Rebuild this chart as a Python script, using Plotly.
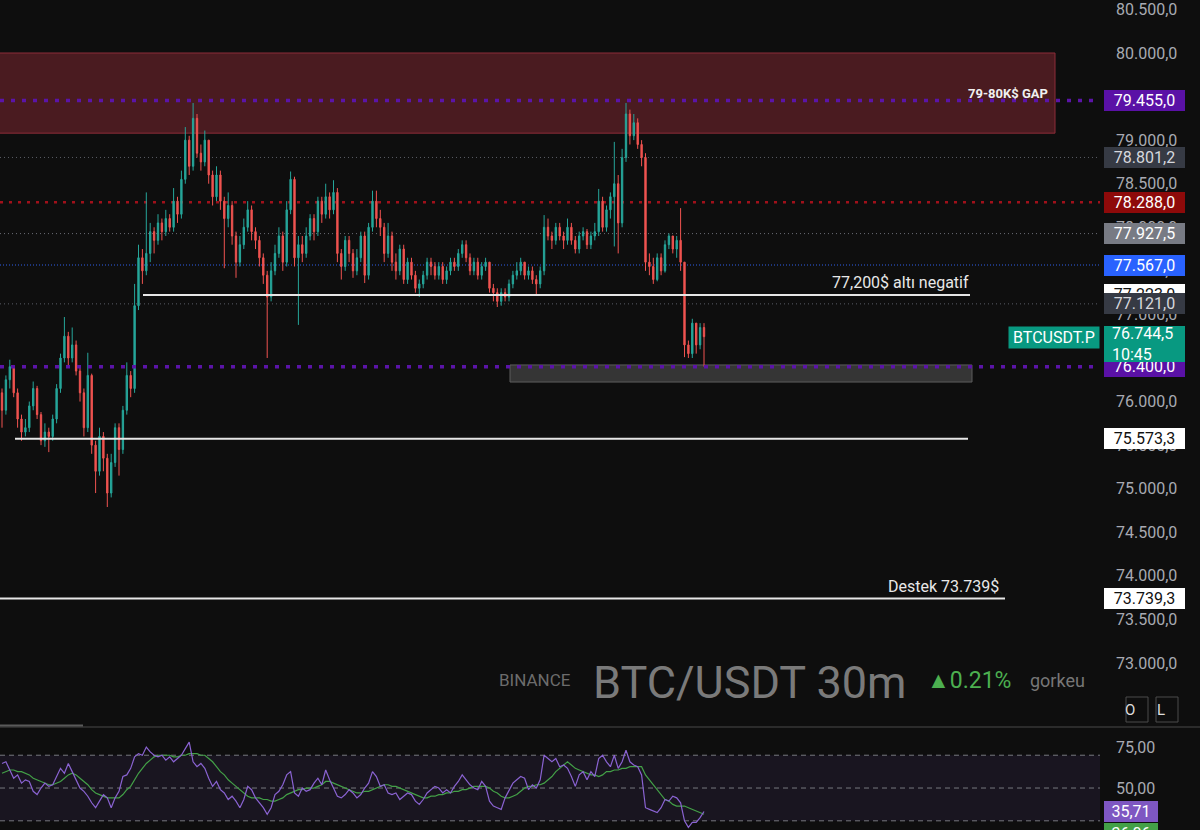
import plotly.graph_objects as go

# ---------------- data ----------------
first_open = 76100
close = [75900, 76250, 76400, 76100, 75800, 75650, 75700, 75950, 76150, 75850,
         75550, 75650, 75600, 75800, 76150, 76500, 76750, 76500, 76650, 76350,
         76100, 75700, 76300, 75500, 75200, 75600, 75350, 74950, 75300, 75700,
         75450, 75900, 76300, 76150, 77100, 77650, 77500, 77700, 77950, 77850,
         78050, 77950, 78100, 78000, 78300, 78150, 78550, 79000, 78700, 79250,
         78850, 78750, 79000, 78600, 78350, 78600, 78300, 78100, 78250, 77900,
         77600, 77800, 78000, 78200, 77950, 77850, 77650, 77450, 77200, 77500,
         77700, 77900, 77600, 78200, 78550, 77650, 77800, 77700, 77900, 78100,
         77950, 78300, 78150, 78350, 78200, 78400, 77700, 77550, 77850, 77700,
         77500, 77650, 77900, 77450, 78000, 78300, 78100, 78000, 77700, 77900,
         77600, 77500, 77750, 77400, 77600, 77450, 77300, 77350, 77450, 77600,
         77550, 77450, 77550, 77400, 77500, 77600, 77550, 77700, 77800, 77650,
         77500, 77600, 77450, 77550, 77600, 77300, 77250, 77150, 77250, 77200,
         77350, 77450, 77500, 77600, 77450, 77500, 77400, 77350, 77500, 78000,
         77900, 77850, 78000, 77900, 77850, 78000, 77850, 77750, 77900, 77950,
         77800, 77900, 77950, 78300, 78000, 78200, 78350, 78500, 78050, 78800,
         79300, 79050, 79200, 78950, 78800, 77600, 77550, 77400, 77650, 77500,
         77800, 77900, 77750, 77850, 77600, 76650, 76550, 76900, 76650, 76850,
         76744.5]
high = [76150, 76300, 76480, 76420, 76150, 75850, 75800, 76000, 76230, 76180,
        75880, 75750, 75700, 75850, 76200, 76550, 76970, 76800, 76850, 76700,
        76400, 76150, 76560, 76320, 75550, 75700, 75650, 75400, 75400, 75750,
        75750, 75950, 76450, 76350, 77350, 77800, 77750, 78400, 78050, 78000,
        78150, 78100, 78200, 78150, 78450, 78350, 78650, 79150, 79050, 79426,
        79300, 78950, 79110, 79000, 78650, 78700, 78650, 78350, 78400, 78300,
        77950, 77900, 78100, 78300, 78250, 78000, 77900, 77700, 77500, 77600,
        77800, 78000, 77950, 78300, 78640, 78580, 77900, 77900, 78000, 78150,
        78150, 78350, 78350, 78500, 78400, 78540, 78450, 77750, 77900, 77900,
        77750, 77750, 77950, 77950, 78050, 78420, 78420, 78200, 78050, 78050,
        77950, 77700, 77800, 77800, 77650, 77650, 77500, 77400, 77500, 77650,
        77650, 77600, 77600, 77600, 77550, 77650, 77650, 77750, 77850, 77850,
        77700, 77650, 77650, 77600, 77650, 77600, 77350, 77300, 77300, 77300,
        77400, 77500, 77600, 77650, 77600, 77550, 77550, 77450, 77550, 78140,
        78100, 77950, 78050, 78050, 77950, 78100, 78050, 77900, 77950, 78000,
        77980, 77950, 78050, 78440, 78350, 78250, 78400, 78980, 78600, 78900,
        79426, 79350, 79300, 79250, 79000, 78850, 77700, 77650, 77700, 77700,
        77850, 77930, 77900, 77900, 78220, 77600, 76700, 76950, 76900, 76900,
        76900]
low = [75700, 75850, 76150, 76050, 75700, 75550, 75600, 75650, 75900, 75800,
       75500, 75480, 75420, 75550, 75750, 76100, 76450, 76400, 76450, 76300,
       76000, 75600, 75650, 75400, 74950, 75150, 75200, 74790, 74900, 75250,
       75150, 75400, 75850, 76050, 76100, 77050, 77350, 77450, 77600, 77700,
       77800, 77850, 77900, 77950, 77950, 78050, 78100, 78500, 78600, 78650,
       78800, 78650, 78700, 78500, 78250, 78300, 78200, 77530, 78000, 77800,
       77420, 77550, 77750, 77950, 77850, 77750, 77550, 77350, 76500, 77150,
       77450, 77650, 77500, 77550, 78150, 77550, 76880, 77600, 77650, 77850,
       77850, 77900, 78050, 78100, 78100, 78150, 77600, 77400, 77500, 77600,
       77420, 77450, 77600, 77360, 77400, 77950, 78000, 77900, 77600, 77650,
       77500, 77400, 77450, 77350, 77350, 77400, 77250, 77200, 77300, 77400,
       77450, 77400, 77400, 77350, 77350, 77450, 77500, 77500, 77650, 77600,
       77450, 77450, 77400, 77400, 77500, 77250, 77150, 77085, 77100, 77150,
       77150, 77300, 77400, 77450, 77400, 77400, 77350, 77220, 77300, 77450,
       77850, 77750, 77800, 77850, 77750, 77800, 77800, 77700, 77700, 77850,
       77750, 77750, 77850, 77900, 77950, 77950, 78100, 77780, 77700, 78000,
       78750, 78950, 79000, 78900, 78700, 77500, 77450, 77350, 77380, 77450,
       77480, 77750, 77700, 77650, 77500, 76510, 76500, 76500, 76550, 76600,
       76400]

rsi = [65, 66, 61, 56, 58, 53, 55, 54, 48, 46, 50, 53, 51, 52, 57, 62, 59, 65, 60, 55,
       50, 48, 45, 41, 38, 42, 46, 44, 38, 44, 48, 57, 58, 62, 69, 71, 70, 75, 72, 70,
       69, 70, 67, 69, 66, 68, 70, 74, 78, 66, 63, 65, 62, 56, 51, 54, 49, 47, 43, 45,
       42, 38, 43, 51, 49, 44, 41, 38, 34, 38, 46, 48, 52, 58, 60, 47, 45, 50, 48, 49,
       53, 56, 52, 61, 55, 50, 45, 44, 46, 49, 47, 44, 46, 50, 53, 60, 57, 51, 52, 47,
       46, 47, 43, 45, 47, 46, 42, 40, 43, 47, 49, 51, 50, 47, 49, 47, 51, 54, 58, 55,
       52, 50, 49, 54, 51, 42, 39, 38, 37, 44, 49, 53, 55, 57, 56, 49, 52, 50, 55, 70,
       68, 66, 68, 63, 64, 62, 57, 51, 58, 60, 55, 60, 57, 68, 70, 66, 63, 70, 62, 66,
       73, 66, 64, 63, 58, 38, 37, 36, 35, 38, 43, 42, 45, 44, 41, 30, 26, 29, 29, 32,
       35.71]
rsi_ma = [59, 60, 61, 61, 60, 60, 59, 58, 56, 55, 54, 53, 52, 52, 53, 54, 56, 58, 59, 58,
          56, 54, 52, 49, 47, 46, 45, 44, 44, 44, 44, 46, 49, 51, 55, 59, 62, 65, 67, 69,
          70, 70, 70, 70, 69, 69, 70, 70, 71, 71, 71, 70, 70, 68, 66, 63, 60, 58, 55, 53,
          51, 49, 47, 45, 44, 44, 44, 43, 43, 42, 42, 43, 44, 46, 47, 48, 49, 49, 50, 50,
          50, 51, 52, 54, 54, 53, 52, 51, 50, 49, 48, 47, 47, 48, 48, 49, 50, 51, 52, 52,
          51, 51, 50, 49, 48, 47, 46, 45, 44, 44, 45, 45, 46, 46, 47, 47, 48, 48, 49, 49,
          50, 51, 51, 51, 51, 50, 48, 47, 45, 44, 44, 45, 46, 48, 50, 51, 51, 52, 52, 53,
          55, 57, 60, 62, 64, 66, 64, 62, 61, 60, 59, 58, 58, 57, 58, 60, 60, 61, 61, 62,
          62, 63, 63, 63, 63, 58, 55, 52, 49, 46, 43, 42, 40, 39, 39, 39, 38, 37, 36, 35,
          34]

price_ticks = [73000, 73500, 74000, 74500, 75000, 75500, 76000, 76500,
               77000, 77500, 78000, 78500, 79000, 79500, 80000, 80500]
rsi_ticks = [50, 75]
rsi_bands = [30, 50, 70]

gap_zone = [79080, 80000]
gap_high = 79455.0
hl_gray_1 = 78801.2
hl_red = 78288.0
hl_gray_2 = 77927.5
hl_blue = 77567.0
line_772 = 77223.0
hl_gray_3 = 77121.0
purple_low = 76400.0
box_zone = [76224, 76420]
support_1 = 75573.3
support_2 = 73739.3
last_time = "10:45"
rsi_ma_label = "36,06"

opens = [first_open] + close[:-1]
idx = list(range(len(close)))

# ---------------- geometry ----------------
W, H = 1200, 830
PLOT_R = 1100
DX, X0 = 3.9, 2.0
xr = [(0 - X0) / DX, (PLOT_R - X0) / DX]
def xi(px):
    return (px - X0) / DX
def py(p):
    return 1 - p / H

BG = "#0e0e0e"
FONT = "Roboto"
GREEN, RED = "#26a69a", "#ef5350"
NB = "\u00a0"

fig = go.Figure()
fig.add_trace(go.Candlestick(
    x=idx, open=opens, high=high, low=low, close=close,
    increasing=dict(line=dict(color=GREEN, width=1), fillcolor=GREEN),
    decreasing=dict(line=dict(color=RED, width=1), fillcolor=RED),
    whiskerwidth=0, xaxis="x", yaxis="y", showlegend=False, hoverinfo="skip"))

fig.add_trace(go.Scatter(x=idx, y=rsi_ma, mode="lines", line=dict(color="#43a047", width=1.2),
                         xaxis="x2", yaxis="y2", showlegend=False, hoverinfo="skip"))
fig.add_trace(go.Scatter(x=idx, y=rsi, mode="lines", line=dict(color="#8a63d2", width=1.2),
                         xaxis="x2", yaxis="y2", showlegend=False, hoverinfo="skip"))

shapes = []
xp_r = PLOT_R / W
shapes.append(dict(type="rect", xref="x", yref="y", x0=xi(-5), x1=xi(1055), y0=gap_zone[0], y1=gap_zone[1],
                   fillcolor="#4a1b20", line=dict(color="#8c2d38", width=1), layer="below"))
shapes.append(dict(type="rect", xref="x", yref="y", x0=xi(510), x1=xi(972), y0=box_zone[0], y1=box_zone[1],
                   fillcolor="rgba(85,85,85,0.55)", line=dict(color="#5c5c5c", width=1), layer="below"))
def hline(y, color, width, dash, x0=0, x1=xp_r, xref="paper", layer="below"):
    shapes.append(dict(type="line", xref=xref, yref="y", x0=x0, x1=x1, y0=y, y1=y,
                       line=dict(color=color, width=width, dash=dash), layer=layer))
hline(hl_gray_1, "#5a5d66", 1, "1px,3px")
hline(hl_red, "#a0101a", 2.5, "3px,6px")
hline(hl_gray_2, "#6a6d76", 1, "1px,3px")
hline(hl_blue, "#2f5fe8", 1, "1px,2px")
hline(hl_gray_3, "#5a5d66", 1, "1px,3px")
hline(gap_high, "#5b14a8", 3.5, "4px,7px", layer="above")
hline(purple_low, "#5b14a8", 3.5, "4px,7px", layer="above")
hline(line_772, "#e6e6e6", 2, "solid", x0=xi(143), x1=xi(970), xref="x", layer="above")
hline(support_1, "#e6e6e6", 2, "solid", x0=xi(15), x1=xi(968), xref="x", layer="above")
hline(support_2, "#e6e6e6", 2, "solid", x0=xi(-5), x1=xi(1005), xref="x", layer="above")

shapes.append(dict(type="rect", xref="paper", yref="y2", x0=0, x1=xp_r, y0=rsi_bands[0], y1=rsi_bands[2],
                   fillcolor="rgba(126,87,194,0.10)", line=dict(width=0), layer="below"))
for b in rsi_bands:
    shapes.append(dict(type="line", xref="paper", yref="y2", x0=0, x1=xp_r, y0=b, y1=b,
                       line=dict(color="#77787e", width=1, dash="5px,4px"), layer="below"))
shapes.append(dict(type="line", xref="paper", yref="paper", x0=0, x1=1, y0=py(727), y1=py(727),
                   line=dict(color="#2b2b2b", width=2)))
shapes.append(dict(type="line", xref="paper", yref="paper", x0=0, x1=83 / W, y0=py(725.5), y1=py(725.5),
                   line=dict(color="#5a5a5a", width=2)))
for (a, b) in [(1126, 1148), (1156, 1178)]:
    shapes.append(dict(type="rect", xref="paper", yref="paper", x0=a / W, x1=b / W, y0=py(722), y1=py(697),
                       line=dict(color="#4a4a4a", width=1), fillcolor=BG))

ann = []
def box(y, text, bg, fc, yref="y", w=81, h=21, yshift=0, yanchor="middle", align="center"):
    ann.append(dict(x=1104 / W, xref="paper", xanchor="left", y=y, yref=yref, yanchor=yanchor,
                    text=text, showarrow=False, bgcolor=bg, width=w, height=h, align=align,
                    borderpad=0, borderwidth=0, yshift=yshift,
                    font=dict(family=FONT, size=16, color=fc)))
def fmt(v):
    s = f"{v:,.1f}"
    return s.replace(",", "X").replace(".", ",").replace("X", ".")

box(gap_high, fmt(gap_high), "#5a11a6", "#ffffff")
box(hl_gray_1, fmt(hl_gray_1), "#363a44", "#d6d8de")
box(hl_red, fmt(hl_red), "#8e0a0a", "#ffffff")
box(hl_gray_2, fmt(hl_gray_2), "#787b84", "#ffffff")
box(hl_blue, fmt(hl_blue), "#2962ff", "#ffffff")
box(line_772, fmt(line_772), "#ffffff", "#111111")
box(hl_gray_3, fmt(hl_gray_3), "#363a44", "#d6d8de")
box(purple_low, fmt(purple_low), "#5a11a6", "#ffffff")
box(close[-1], NB * 2 + fmt(close[-1]) + "<br>" + NB * 2 + last_time, "#089981", "#ffffff",
    w=81, h=36, yshift=11, yanchor="top", align="left")
box(support_1, fmt(support_1), "#ffffff", "#111111")
box(support_2, fmt(support_2), "#ffffff", "#111111")
box(rsi[-1], f"{rsi[-1]:.2f}".replace(".", ","), "#7e57c2", "#ffffff", yref="y2", w=54)
box(rsi[-1], rsi_ma_label, "#43a047", "#ffffff", yref="y2", w=54, yshift=-22)

ann.append(dict(x=1100 / W, xref="paper", xanchor="right", y=close[-1], yref="y", yanchor="top", yshift=11,
                text="BTCUSDT.P", showarrow=False, bgcolor="#089981", width=90, height=21, borderpad=0,
                font=dict(family=FONT, size=16, color="#ffffff")))

ann.append(dict(x=1050 / W, xref="paper", xanchor="right", y=79540, yref="y", yanchor="middle",
                text="<b>79-80K$ GAP</b>", showarrow=False, font=dict(family=FONT, size=13, color="#f0f0f0")))
ann.append(dict(x=900 / W, xref="paper", xanchor="center", y=line_772, yref="y", yanchor="bottom", yshift=1,
                text="77,200$ altı negatif", showarrow=False, font=dict(family=FONT, size=16, color="#e8e8e8")))
ann.append(dict(x=943 / W, xref="paper", xanchor="center", y=support_2, yref="y", yanchor="bottom", yshift=1,
                text="Destek 73.739$", showarrow=False, font=dict(family=FONT, size=16, color="#e8e8e8")))

def wm(xl, yc, text, size, color):
    ann.append(dict(x=xl / W, xref="paper", xanchor="left", y=py(yc), yref="paper", yanchor="middle",
                    text=text, showarrow=False, font=dict(family=FONT, size=size, color=color)))
wm(497, 680, "BINANCE", 17, "#6c6c6c")
wm(591, 682, "BTC/USDT 30m", 45, "#7a7a7a")
wm(925, 680, "▲0.21%", 23, "#4caf50")
wm(1028, 680, "gorkeu", 18, "#777777")
ann.append(dict(x=1137 / W, xref="paper", y=py(709.5), yref="paper", yanchor="middle", text="O",
                showarrow=False, font=dict(family=FONT, size=15, color="#dddddd")))
ann.append(dict(x=1167 / W, xref="paper", y=py(709.5), yref="paper", yanchor="middle", text="L",
                showarrow=False, font=dict(family=FONT, size=15, color="#dddddd")))

axis_common = dict(showgrid=False, zeroline=False, showline=False)
fig.update_layout(
    width=W, height=H, margin=dict(l=0, r=0, t=0, b=0),
    paper_bgcolor=BG, plot_bgcolor=BG,
    separators=",.", boxgap=0.5,
    font=dict(family=FONT, color="#a8aab2"),
    xaxis=dict(domain=[0, xp_r], range=xr, anchor="y", showticklabels=False,
               rangeslider=dict(visible=False), **axis_common),
    xaxis2=dict(domain=[0, xp_r], range=xr, anchor="y2", matches="x", showticklabels=False, **axis_common),
    yaxis=dict(domain=[1 - 727 / H, 1], range=[72265.3, 80608.2], side="right", anchor="x",
               tickvals=price_ticks, tickformat=",.1f", ticks="", ticklabelstandoff=15,
               tickfont=dict(family=FONT, size=16, color="#a8aab2"), **axis_common),
    yaxis2=dict(domain=[0, 101 / H], range=[24.4, 86.0], side="right", anchor="x2",
                tickvals=rsi_ticks, tickformat=".2f", ticks="", ticklabelstandoff=15,
                tickfont=dict(family=FONT, size=16, color="#a8aab2"), **axis_common),
    shapes=shapes, annotations=ann,
)
fig.write_html("out.html", config={"displayModeBar": False},
               post_script="document.body.style.margin='0';document.body.style.background='#0e0e0e';")
